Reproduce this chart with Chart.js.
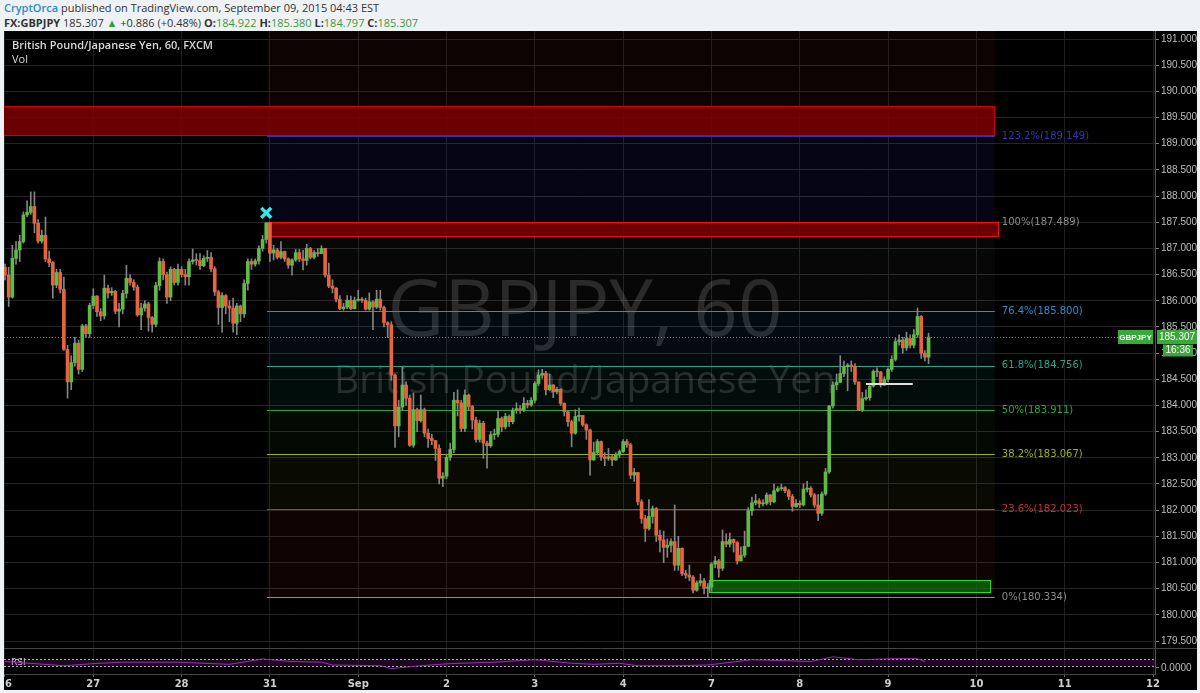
<!DOCTYPE html>
<html>
<head>
<meta charset="utf-8">
<script src="https://cdn.jsdelivr.net/npm/chart.js@4.4.1/dist/chart.umd.min.js"></script>
<style>
  html, body { margin: 0; padding: 0; background: #eef2f5; width: 1200px; height: 693px; overflow: hidden; }
  .hdr { position: absolute; left: 4px; font: 11px "Open Sans", "Liberation Sans", sans-serif; color: #333; white-space: nowrap; }
  #hdr1 { top: 0px; }
  #hdr2 { top: 15px; }
  .user { color: #2a8ac8; font-weight: 600; }
  .g { color: #3a9a3a; }
  #box { position: absolute; left: 4px; top: 31px; width: 1193px; height: 659px; background: #000; }
  #box canvas { position: absolute; left: 0; }
  .ttl { position: absolute; left: 8px; font: 600 11px "Open Sans", "Liberation Sans", sans-serif; color: #d8d8d8; }
</style>
</head>
<body>
<div class="hdr" id="hdr1"><span class="user">CryptOrca</span> published on TradingView.com, September 09, 2015 04:43 EST</div>
<div class="hdr" id="hdr2"><b>FX:GBPJPY</b> 185.307 <span class="g">&#9650;</span> +0.886 (+0.48%) <b>O:</b><span class="g">184.922</span> <b>H:</b><span class="g">185.380</span> <b>L:</b><span class="g">184.797</span> <b>C:</b><span class="g">185.307</span></div>
<div id="box">
  <canvas id="main" width="1193" height="617" style="top:0"></canvas>
  <canvas id="rsi" width="1193" height="42" style="top:617px"></canvas>
  <div class="ttl" style="top:6px">British Pound/Japanese Yen, 60, FXCM</div>
  <div class="ttl" style="top:20px;font-weight:400">Vol</div>
</div>
<script>
// hourly candles, index 0 = first hour of Aug 26 (weekends skipped)
const dayLabels = ['26', '27', '28', '31', 'Sep', '2', '3', '4', '7', '8', '9', '10', '11', '12'];
const hoursPerDay = 24;
const priceTicks = [179.5, 180, 180.5, 181, 181.5, 182, 182.5, 183, 183.5, 184, 184.5, 185,
  185.5, 186, 186.5, 187, 187.5, 188, 188.5, 189, 189.5, 190, 190.5, 191];

const firstOpen = 186.64;
const closes = [
  186.49,186.07,186.81,186.97,187.13,187.64,187.69,187.80,187.48,187.14,187.25,186.80,
  186.73,186.30,186.54,186.22,185.07,184.45,184.82,185.19,184.69,185.52,185.37,185.91,
  186.09,185.79,185.71,186.24,186.15,186.18,185.80,185.84,186.14,186.43,186.35,186.26,
  185.73,185.86,185.94,185.68,185.55,186.29,186.75,186.50,186.07,186.60,186.35,186.60,
  186.50,186.46,186.75,186.78,186.77,186.67,186.81,186.83,186.61,186.17,185.87,186.10,
  185.90,185.86,185.57,185.90,185.75,186.33,186.75,186.70,186.76,187.00,187.17,187.49,
  186.91,186.97,186.83,186.94,186.80,186.68,186.78,186.92,186.80,186.77,187.00,186.83,
  186.92,186.90,187.00,186.49,186.28,186.24,186.03,185.85,185.88,186.01,185.85,186.01,
  186.03,186.01,185.84,185.98,185.88,186.03,185.87,185.58,185.54,184.58,183.61,183.97,
  184.39,184.14,183.24,183.92,183.71,183.92,183.47,183.37,183.33,183.18,182.61,182.65,
  183.01,183.16,184.10,184.05,183.56,184.20,183.98,183.72,183.35,183.66,183.28,183.23,
  183.44,183.45,183.75,183.59,183.79,183.69,183.91,183.94,183.91,184.04,184.01,184.10,
  184.42,184.58,184.61,184.30,184.39,184.26,184.31,184.04,183.88,183.69,183.47,183.79,
  183.81,183.63,183.53,182.96,183.10,183.31,183.02,182.99,183.02,182.96,183.05,183.12,
  183.31,183.25,182.67,182.72,182.16,181.84,181.65,181.88,182.03,181.52,181.43,181.29,
  181.33,181.40,180.95,181.27,180.79,180.76,180.72,180.47,180.61,180.65,180.51,180.53,
  180.97,181.03,180.89,181.40,181.35,181.44,181.38,181.03,181.14,181.31,181.99,182.14,
  182.18,182.12,182.13,182.29,182.16,182.37,182.41,182.43,182.37,182.26,182.07,182.13,
  182.10,182.40,182.42,182.29,182.10,181.94,182.31,182.73,183.99,184.39,184.44,184.61,
  184.74,184.77,184.75,184.45,183.91,184.13,184.15,184.37,184.65,184.64,184.39,184.50,
  184.69,184.88,185.22,185.25,185.10,185.28,185.15,185.35,185.70,185.00,184.922,185.307
];
const highs = [
  186.70,186.64,187.06,187.13,187.25,187.70,187.91,188.08,188.08,187.55,187.35,187.60,
  186.95,186.75,186.60,186.60,186.45,185.15,184.95,185.30,185.25,185.55,185.55,185.95,
  186.23,186.10,185.85,186.49,186.30,186.25,186.20,185.95,186.20,186.68,186.50,186.40,
  186.30,185.95,186.00,185.97,185.70,186.35,186.82,186.80,186.55,186.65,186.62,186.70,
  186.65,186.60,186.80,186.99,186.90,186.90,186.86,186.96,186.92,186.65,186.20,186.15,
  186.12,186.00,186.05,185.95,185.92,186.40,186.80,186.80,186.80,187.05,187.25,187.49,
  187.30,187.06,187.00,187.13,186.95,186.82,186.80,186.98,186.98,186.97,187.08,187.02,
  186.96,187.00,187.05,187.00,186.72,186.40,186.25,186.10,185.95,186.10,186.09,186.07,
  186.20,186.06,186.05,186.15,186.00,186.20,186.20,185.90,185.60,185.60,184.60,184.10,
  184.74,184.45,184.20,184.24,183.95,184.20,183.95,183.55,183.45,183.30,183.25,182.72,
  183.07,183.28,184.25,184.30,184.10,184.30,184.22,184.00,183.78,183.72,183.70,183.32,
  183.50,183.55,183.90,183.78,183.85,183.82,183.95,184.05,184.00,184.15,184.10,184.15,
  184.45,184.68,184.69,184.65,184.60,184.40,184.35,184.32,184.05,183.90,183.72,183.92,
  183.95,183.80,183.65,183.55,183.30,183.35,183.32,183.10,183.18,183.05,183.10,183.15,
  183.35,183.35,183.28,182.80,182.72,182.20,181.90,182.20,182.08,182.05,181.62,181.60,
  181.45,181.45,182.10,181.50,181.28,180.85,180.95,180.75,180.65,180.78,180.70,180.60,
  181.00,181.12,181.06,181.62,181.55,181.56,181.45,181.40,181.30,181.60,182.05,182.25,
  182.30,182.22,182.20,182.33,182.30,182.50,182.45,182.50,182.45,182.40,182.30,182.20,
  182.18,182.50,182.55,182.45,182.32,182.30,182.35,182.80,184.00,184.45,184.60,184.95,
  184.85,184.80,184.85,184.80,184.45,184.25,184.30,184.40,184.68,184.72,184.65,184.55,
  184.72,184.95,185.28,185.35,185.30,185.40,185.35,185.45,185.86,185.72,185.05,185.38
];
const lows = [
  186.40,185.89,186.05,186.70,186.75,187.10,187.60,187.65,187.30,187.10,187.10,186.75,
  186.65,186.05,186.25,186.15,185.05,184.14,184.30,184.75,184.60,184.65,185.30,185.30,
  185.85,185.70,185.62,185.65,186.05,186.10,185.75,185.50,185.75,186.05,186.30,186.20,
  185.70,185.45,185.80,185.42,185.40,185.50,186.20,186.40,185.95,186.00,186.30,186.30,
  186.45,186.30,186.30,186.70,186.68,186.60,186.65,186.75,186.55,186.10,185.55,185.40,
  185.75,185.60,185.40,185.35,185.60,185.68,186.20,186.60,186.66,186.70,186.95,187.10,
  186.75,186.78,186.80,186.80,186.75,186.62,186.49,186.75,186.75,186.59,186.68,186.80,
  186.80,186.85,186.90,186.45,186.25,186.15,185.98,185.83,185.82,185.85,185.83,185.84,
  185.99,185.97,185.82,185.82,185.45,185.85,185.82,185.50,185.30,184.48,183.20,183.40,
  183.90,184.00,183.22,183.20,183.50,183.68,183.40,183.20,183.25,182.95,182.50,182.45,
  182.60,182.95,183.10,183.80,183.50,183.50,183.90,183.55,183.30,183.30,182.99,182.80,
  183.20,183.35,183.40,183.50,183.55,183.60,183.65,183.85,183.85,183.88,183.95,183.98,
  184.05,184.38,184.52,184.20,184.28,184.15,184.22,184.00,183.80,183.60,183.21,183.45,
  183.70,183.60,183.35,182.67,182.95,183.05,182.95,182.85,182.95,182.85,182.95,183.00,
  183.10,183.20,182.60,182.55,182.10,181.75,181.40,181.62,181.75,181.40,181.20,181.00,
  181.10,181.20,180.85,180.85,180.75,180.70,180.65,180.42,180.45,180.55,180.40,180.33,
  180.45,180.90,180.72,180.85,181.30,181.30,181.20,180.97,181.05,181.10,181.30,181.90,
  182.10,182.05,182.08,182.10,182.10,182.14,182.35,182.38,182.33,182.20,181.98,182.05,
  182.05,182.08,182.35,182.25,182.05,181.80,181.90,182.28,182.70,183.95,184.30,184.50,
  184.55,184.28,184.65,184.40,183.90,183.88,184.10,184.10,184.35,184.55,184.35,184.38,
  184.45,184.65,184.85,185.15,185.00,185.05,185.10,185.10,185.30,184.90,184.85,184.797
];

// fibonacci retracement drawn from the Aug 31 high to the Sep 7 low
const fibRatios = ['123.2%', '100%', '76.4%', '61.8%', '50%', '38.2%', '23.6%', '0%'];
const fibPrices = [189.149, 187.489, 185.800, 184.756, 183.911, 183.067, 182.023, 180.334];
const fibCeiling = 191.91;   // 161.8% level, above the visible range
const fibStart = 71.2, fibEnd = 269;

// boxes drawn on the chart: [start index, end index, top price, bottom price]
const boxStart = [-1, 71.2, 191.2];
const boxEnd = [269, 269.9, 267.6];
const boxTop = [189.72, 187.50, 180.665];
const boxBottom = [189.166, 187.237, 180.436];

const markIdx = [71], markPrice = [187.68];
const segIdx = [234, 246.7], segPrice = [184.41, 184.41];
const lastPrice = 185.307, lastLabel = '185.307', countdown = '16:36';

// RSI pane (sparse readings)
const rsiIdx = [0, 16, 24, 32, 47, 61, 70, 78, 86, 89, 102, 105, 113, 121, 133, 144, 154, 160,
  167, 172, 182, 191, 203, 213, 219, 225, 232, 242, 248, 250];
const rsiVal = [56, 32, 44, 52, 52, 40, 70, 56, 52, 36, 32, 16, 32, 44, 52, 66, 46, 40,
  46, 32, 32, 36, 66, 60, 56, 82, 66, 72, 72, 56];

const xMin = -0.27, xMax = 312.54;
const yMin = 179.367, yMax = 191.153;

const UP = '#5dbb46', DOWN = '#e8643f', WICK = '#858585';
const fibColors = ['#3434b8', '#8c8c8c', '#2e8ccf', '#1faa8c', '#2fa82f', '#9db020', '#c8302c', '#8c8c8c'];
const zoneFill = ['rgba(200,40,40,0.07)', 'rgba(52,52,184,0.10)', 'rgba(140,140,140,0.05)',
  'rgba(46,140,207,0.08)', 'rgba(31,170,140,0.07)', 'rgba(47,168,47,0.06)',
  'rgba(157,176,32,0.06)', 'rgba(200,48,44,0.08)'];
const boxFill = ['rgba(125,0,0,0.85)', 'rgba(125,0,0,0.85)', 'rgba(15,110,15,0.75)'];
const boxLine = ['#d00000', '#f01010', '#22e022'];

const opens = closes.map((c, i) => i === 0 ? firstOpen : closes[i - 1]);

function dayTicks(scale) {
    scale.ticks = dayLabels.map((_, k) => ({ value: k * hoursPerDay }));
}

const mainOverlay = {
    id: 'mainOverlay',
    beforeDatasetsDraw(chart) {
        const { ctx, chartArea: a, scales: { x, y } } = chart;
        ctx.save();
        ctx.beginPath();
        ctx.rect(a.left, a.top, a.width, a.height);
        ctx.clip();

        const fx0 = x.getPixelForValue(fibStart), fx1 = x.getPixelForValue(fibEnd);
        const tops = [fibCeiling].concat(fibPrices);
        for (let k = 0; k < fibPrices.length; k++) {
            const yt = y.getPixelForValue(tops[k]), yb = y.getPixelForValue(fibPrices[k]);
            ctx.fillStyle = zoneFill[k];
            ctx.fillRect(fx0, yt, fx1 - fx0, yb - yt);
        }

        // watermark
        ctx.fillStyle = 'rgba(255,255,255,0.14)';
        ctx.textAlign = 'center';
        ctx.textBaseline = 'middle';
        ctx.font = '78px "Open Sans"';
        ctx.fillText('GBPJPY, 60', 581, 283);
        ctx.font = '39px "Open Sans"';
        ctx.fillText('British Pound/Japanese Yen', 581, 351);

        // fib lines
        fibPrices.forEach((p, k) => {
            const yy = Math.round(y.getPixelForValue(p)) + 0.5;
            ctx.strokeStyle = fibColors[k];
            ctx.lineWidth = 1;
            ctx.beginPath();
            ctx.moveTo(fx0, yy);
            ctx.lineTo(fx1, yy);
            ctx.stroke();
        });

        // boxes
        boxStart.forEach((s, k) => {
            const bx0 = x.getPixelForValue(s), bx1 = x.getPixelForValue(boxEnd[k]);
            const by0 = y.getPixelForValue(boxTop[k]), by1 = y.getPixelForValue(boxBottom[k]);
            ctx.fillStyle = boxFill[k];
            ctx.fillRect(bx0, by0, bx1 - bx0, by1 - by0);
            ctx.strokeStyle = boxLine[k];
            ctx.lineWidth = 1;
            ctx.strokeRect(Math.round(bx0) + 0.5, Math.round(by0) + 0.5, Math.round(bx1 - bx0), Math.round(by1 - by0));
        });
        ctx.restore();

        // fib labels
        ctx.save();
        ctx.font = '10px "DejaVu Sans"';
        ctx.textAlign = 'left';
        ctx.textBaseline = 'middle';
        fibPrices.forEach((p, k) => {
            ctx.fillStyle = fibColors[k];
            ctx.fillText(fibRatios[k] + '(' + p.toFixed(3) + ')', fx1 + 7, y.getPixelForValue(p));
        });
        ctx.restore();
    },
    afterDraw(chart) {
        const { ctx, chartArea: a, scales: { y } } = chart;
        const yy = Math.round(y.getPixelForValue(lastPrice)) + 0.5;
        ctx.save();
        ctx.strokeStyle = '#3aa83a';
        ctx.setLineDash([1, 2]);
        ctx.beginPath();
        ctx.moveTo(a.left, yy);
        ctx.lineTo(a.right - 37, yy);
        ctx.stroke();
        ctx.setLineDash([]);

        ctx.fillStyle = '#3aa83a';
        ctx.fillRect(a.right - 37, yy - 7.5, 35, 14);
        ctx.fillRect(a.right + 2, yy - 7.5, 40, 14);
        ctx.fillRect(a.right + 8, yy + 7, 30, 12);
        ctx.fillStyle = '#fff';
        ctx.textBaseline = 'middle';
        ctx.textAlign = 'center';
        ctx.font = 'bold 8px "Liberation Sans"';
        ctx.fillText('GBPJPY', a.right - 19.5, yy);
        ctx.font = '10px "Liberation Sans"';
        ctx.fillText(lastLabel, a.right + 22, yy);
        ctx.fillText(countdown, a.right + 23, yy + 13);
        ctx.restore();
    }
};

new Chart(document.getElementById('main').getContext('2d'), {
    type: 'bar',
    data: {
        datasets: [
            {
                label: 'wick',
                data: closes.map((c, i) => ({
                    x: i,
                    y: [Math.min(lows[i], opens[i], c), Math.max(highs[i], opens[i], c)]
                })),
                backgroundColor: WICK,
                barThickness: 1,
                grouped: false,
                order: 3
            },
            {
                label: 'body',
                data: closes.map((c, i) => ({ x: i, y: [opens[i], c] })),
                backgroundColor: ctx => closes[ctx.dataIndex] >= opens[ctx.dataIndex] ? UP : DOWN,
                barThickness: 3,
                minBarLength: 1,
                grouped: false,
                order: 2
            },
            {
                type: 'line',
                label: 'segment',
                data: segIdx.map((v, k) => ({ x: v, y: segPrice[k] })),
                borderColor: '#e0e0e0',
                borderWidth: 2,
                pointRadius: 0,
                order: 1
            },
            {
                type: 'line',
                label: 'mark',
                data: markIdx.map((v, k) => ({ x: v, y: markPrice[k] })),
                showLine: false,
                pointStyle: 'crossRot',
                pointRadius: 7,
                borderColor: '#33e8f0',
                borderWidth: 3.5,
                order: 0
            }
        ]
    },
    options: {
        responsive: false,
        animation: false,
        layout: { padding: 0, autoPadding: false },
        plugins: { legend: { display: false }, tooltip: { enabled: false } },
        scales: {
            x: {
                type: 'linear',
                min: xMin,
                max: xMax,
                offset: false,
                grid: { color: '#1e1e1e', offset: false, drawTicks: false },
                border: { display: false },
                ticks: { display: false },
                afterBuildTicks: dayTicks,
                afterFit(s) { s.height = 0; }
            },
            y: {
                position: 'right',
                min: yMin,
                max: yMax,
                grid: { color: '#252525', tickLength: 4, tickColor: '#777' },
                border: { display: true, color: '#555' },
                ticks: {
                    color: '#bdbdbd',
                    padding: 2,
                    font: { size: 10, family: 'Liberation Sans' },
                    callback: v => v.toFixed(3)
                },
                afterBuildTicks(s) { s.ticks = priceTicks.map(v => ({ value: v })); },
                afterFit(s) { s.width = 42; s.paddingTop = 0; s.paddingBottom = 0; }
            }
        }
    },
    plugins: [mainOverlay]
});

const rsiOverlay = {
    id: 'rsiOverlay',
    beforeDatasetsDraw(chart) {
        const { ctx, chartArea: a, scales: { y } } = chart;
        const y70 = Math.round(y.getPixelForValue(70)) + 0.5;
        const y30 = Math.round(y.getPixelForValue(30)) + 0.5;
        ctx.save();
        ctx.fillStyle = 'rgba(90,20,100,0.35)';
        ctx.fillRect(a.left, y70, a.width, y30 - y70);
        ctx.strokeStyle = '#b0b0b0';
        ctx.setLineDash([2, 2]);
        ctx.beginPath();
        ctx.moveTo(a.left, y70); ctx.lineTo(a.right, y70);
        ctx.moveTo(a.left, y30); ctx.lineTo(a.right, y30);
        ctx.stroke();
        ctx.setLineDash([]);
        ctx.strokeStyle = '#444';
        ctx.beginPath();
        ctx.moveTo(0, 0.5); ctx.lineTo(chart.width, 0.5);
        ctx.stroke();
        ctx.fillStyle = '#bbb';
        ctx.font = '9px "DejaVu Sans"';
        ctx.textBaseline = 'middle';
        ctx.fillText('RSI', a.left + 7, (y70 + y30) / 2);
        ctx.restore();
    }
};

new Chart(document.getElementById('rsi').getContext('2d'), {
    type: 'line',
    data: {
        datasets: [{
            label: 'RSI',
            data: rsiIdx.map((v, k) => ({ x: v, y: rsiVal[k] })),
            borderColor: '#9a2fb0',
            borderWidth: 1,
            pointRadius: 0,
            tension: 0
        }]
    },
    options: {
        responsive: false,
        animation: false,
        layout: { padding: 0, autoPadding: false },
        plugins: { legend: { display: false }, tooltip: { enabled: false } },
        scales: {
            x: {
                type: 'linear',
                min: xMin,
                max: xMax,
                grid: { color: '#1e1e1e', tickLength: 3, tickColor: '#666' },
                border: { display: true, color: '#444' },
                ticks: {
                    color: '#cfcfcf',
                    padding: 1,
                    autoSkip: false,
                    maxRotation: 0,
                    font: { size: 10, family: 'DejaVu Sans', weight: 'bold' },
                    callback: v => dayLabels[Math.round(v / hoursPerDay)]
                },
                afterBuildTicks: dayTicks,
                afterFit(s) { s.height = 16; s.paddingLeft = 0; s.paddingRight = 0; }
            },
            y: {
                position: 'right',
                min: -14.5,
                max: 132,
                grid: { drawOnChartArea: false, tickLength: 4, tickColor: '#777' },
                border: { display: true, color: '#555' },
                ticks: {
                    color: '#bdbdbd',
                    padding: 2,
                    font: { size: 10, family: 'Liberation Sans' },
                    callback: () => '0.0000'
                },
                afterBuildTicks(s) { s.ticks = [{ value: 20 }]; },
                afterFit(s) { s.width = 42; s.paddingTop = 0; s.paddingBottom = 0; }
            }
        }
    },
    plugins: [rsiOverlay]
});
</script>
</body>
</html>
